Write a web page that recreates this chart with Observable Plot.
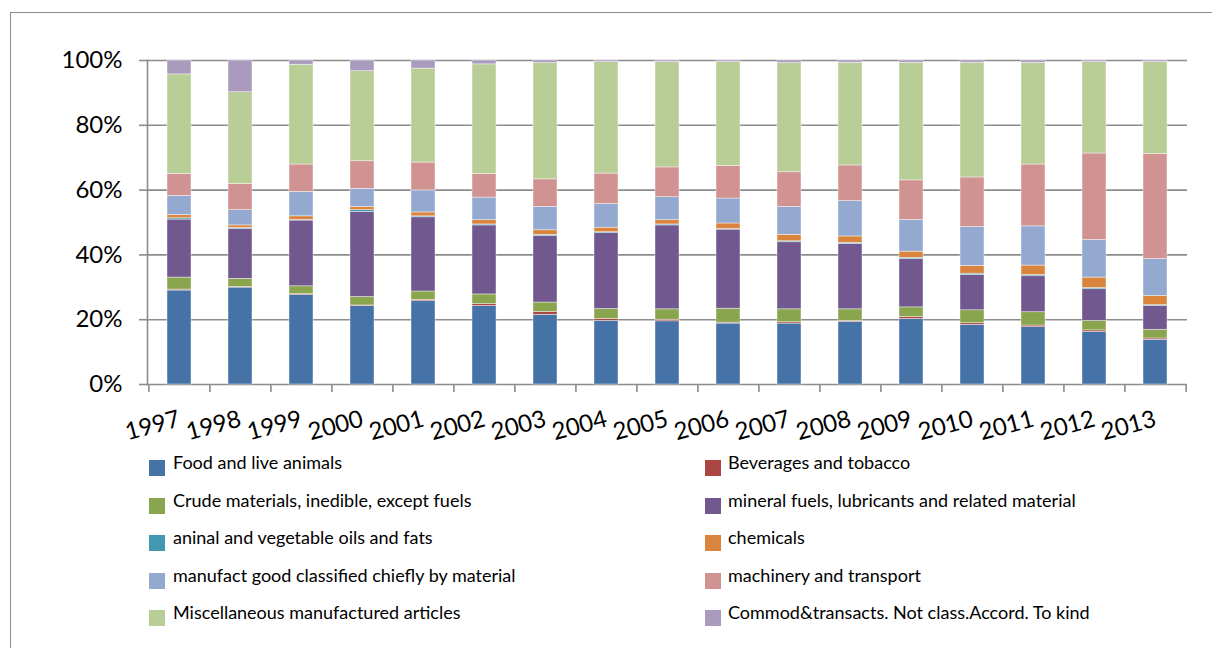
<!DOCTYPE html>
<html>
<head>
<meta charset="utf-8">
<script src="https://cdn.jsdelivr.net/npm/d3@7"></script>
<script src="https://cdn.jsdelivr.net/npm/@observablehq/plot@0.6"></script>
<style>
  html, body { margin: 0; padding: 0; background: #fff; }
  #wrap { position: relative; width: 1212px; height: 648px; overflow: hidden; font-family: Lato, "Open Sans", sans-serif; }
  #frame { position: absolute; left: 10px; top: 12px; width: 1300px; height: 700px; border-left: 1.5px solid #8c8c8c; border-top: 1.5px solid #8c8c8c; }
  #chart { position: absolute; left: 0; top: 0; }
  .sw { position: absolute; width: 16px; height: 16px; }
  .lt { position: absolute; font-size: 18px; line-height: 20px; color: #000; white-space: nowrap; }
</style>
</head>
<body>
<div id="wrap">
  <div id="frame"></div>
  <div id="chart"></div>
  <div id="legend"></div>
</div>
<script>
const years = ["1997","1998","1999","2000","2001","2002","2003","2004","2005","2006","2007","2008","2009","2010","2011","2012","2013"];
const seriesNames = [
  "Food and live animals",
  "Beverages and tobacco",
  "Crude materials, inedible, except fuels",
  "mineral fuels, lubricants and related material",
  "aninal and vegetable oils and fats",
  "chemicals",
  "manufact good classified chiefly by material",
  "machinery and transport",
  "Miscellaneous manufactured articles",
  "Commod&transacts. Not class.Accord. To kind"
];
const seriesColors = ["#4572A7","#AA4643","#89A54E","#71588F","#4198AF","#DB843D","#93A9CF","#D19392","#B9CD96","#A99BBD"];

const food      = [29.0,29.9,27.6,24.2,25.7,24.2,21.5,19.6,19.5,18.8,18.8,19.3,20.2,18.4,17.7,16.2,13.8];
const beverages = [0.3,0.2,0.3,0.2,0.4,0.6,0.9,0.6,0.5,0.3,0.4,0.3,0.6,0.5,0.5,0.5,0.4];
const crude     = [3.7,2.5,2.4,2.6,2.6,3.0,2.9,3.1,3.2,4.3,4.0,3.6,3.0,4.0,4.1,2.9,2.7];
const mineral   = [17.9,15.4,20.3,26.3,22.9,21.3,20.5,23.4,25.9,24.4,20.7,20.2,14.9,10.9,11.1,9.8,7.3];
const oils      = [0.4,0.3,0.2,0.5,0.3,0.3,0.4,0.3,0.3,0.2,0.3,0.3,0.4,0.4,0.4,0.4,0.3];
const chemicals = [1.0,0.8,1.1,1.0,1.2,1.3,1.4,1.4,1.3,1.7,2.0,2.0,1.9,2.4,2.9,3.2,2.8];
const manufact  = [5.9,4.7,7.5,5.6,6.8,7.0,7.2,7.3,7.1,7.7,8.6,10.9,9.8,12.0,12.1,11.6,11.4];
const machinery = [6.8,8.1,8.5,8.5,8.6,7.3,8.5,9.4,9.2,10.1,10.7,11.0,12.2,15.3,19.1,26.7,32.5];
const misc      = [30.7,28.3,30.8,27.8,29.0,33.8,35.9,34.4,32.5,32.0,33.7,31.7,36.3,35.4,31.4,28.2,28.3];
const commod    = [4.3,9.8,1.3,3.3,2.5,1.2,0.8,0.5,0.5,0.5,0.8,0.7,0.7,0.7,0.7,0.5,0.5];

const yTicks = [0, 0.2, 0.4, 0.6, 0.8, 1];

const seriesValues = [food, beverages, crude, mineral, oils, chemicals, manufact, machinery, misc, commod];
const rows = [];
years.forEach((yr, i) => {
  seriesNames.forEach((s, j) => rows.push({year: yr, series: s, value: seriesValues[j][i]}));
});

const W = 1212, H = 460, ML = 147, MR = 25, MT = 60, MB = 76;
const step = (W - ML - MR) / years.length;
const grid = "#8c8c8c";

const chart = Plot.plot({
  width: W, height: H,
  marginLeft: ML, marginRight: MR, marginTop: MT, marginBottom: MB,
  style: {fontFamily: "Lato, 'Open Sans', sans-serif", color: "#000", background: "transparent"},
  x: {type: "band", domain: years, paddingInner: 0.6, paddingOuter: 0.3, align: 0.5},
  y: {domain: [0, 1]},
  color: {domain: seriesNames, range: seriesColors},
  marks: [
    Plot.ruleY(yTicks, {stroke: grid, strokeWidth: 1.6}),
    Plot.barY(rows, Plot.stackY({offset: "normalize", order: seriesNames}, {
      x: "year", y: "value", fill: "series", stroke: "#ffffff", strokeWidth: 0.6, strokeOpacity: 0.7
    })),
    Plot.frame({anchor: "left", stroke: grid, strokeWidth: 1.6}),
    Plot.ruleX(years, {x: d => d, y1: 0, y2: -0.025, dx: -step / 2, stroke: grid, strokeWidth: 1.6}),
    Plot.ruleX(years.slice(-1), {x: d => d, y1: 0, y2: -0.025, dx: step / 2, stroke: grid, strokeWidth: 1.6}),
    Plot.axisY(yTicks, {tickFormat: d3.format(".0%"), tickSize: 8, tickPadding: 17, fontSize: 24, stroke: grid, strokeWidth: 1.6, label: null}),
    Plot.axisX({tickSize: 0, tickRotate: -15, tickPadding: 34, fontSize: 24, label: null})
  ]
});
document.getElementById("chart").appendChild(chart);

const legend = document.getElementById("legend");
const leftIdx = [0, 2, 4, 6, 8], rightIdx = [1, 3, 5, 7, 9];
function addItem(idx, row, swX, txtX) {
  const sw = document.createElement("div");
  sw.className = "sw";
  sw.style.left = swX + "px";
  sw.style.top = (460 + row * 37.5) + "px";
  sw.style.background = seriesColors[idx];
  legend.appendChild(sw);
  const t = document.createElement("div");
  t.className = "lt";
  t.style.left = txtX + "px";
  t.style.top = (452 + row * 37.5) + "px";
  t.textContent = seriesNames[idx];
  legend.appendChild(t);
}
leftIdx.forEach((idx, r) => addItem(idx, r, 149, 173));
rightIdx.forEach((idx, r) => addItem(idx, r, 705, 728));
</script>
</body>
</html>
